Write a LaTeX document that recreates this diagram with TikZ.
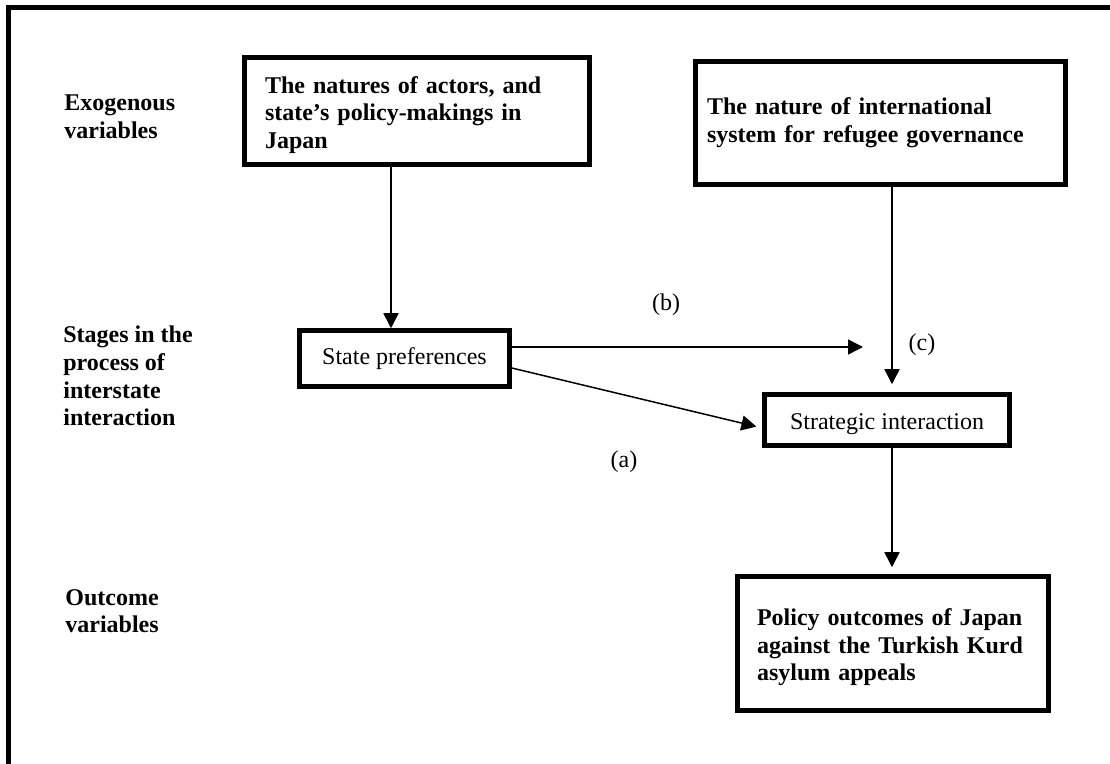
\documentclass[tikz,border=0pt]{standalone}
\usepackage{fontspec}
\setmainfont{Liberation Serif}
\usetikzlibrary{arrows.meta,positioning}

\newcommand{\toppad}{\rule{0pt}{12.3pt}}

\begin{document}
\begin{tikzpicture}[
    x=0.5pt, y=-0.5pt,
    font=\fontsize{12}{13.8}\selectfont,
    block/.style={draw, rectangle, line width=2.25pt, align=left},
    boldblock/.style={block, font=\fontsize{12}{13.8}\selectfont\bfseries},
    rowlabel/.style={anchor=west, inner sep=0pt, align=left, font=\fontsize{12}{13.8}\selectfont\bfseries},
    arrow/.style={-{Triangle[length=7.5pt, width=7.5pt]}, line width=0.75pt}
]

\clip (0,0) rectangle (1110,764);
% Outer frame, runs off the right and bottom edges
\draw[line width=2.5pt] (8.5,7.5) rectangle (1140,800);

% Row labels
\node[rowlabel] (exo) at (64,117) {Exogenous\\variables};
\node[rowlabel] (stages) at (63,376) {Stages in the\\process of\\interstate\\interaction};
\node[rowlabel] (outcome) at (65,611) {Outcome\\variables};

% Exogenous variables
\node[boldblock, minimum width=172.5pt, minimum height=53.5pt, text width=152pt] (actors) at (417,111)
    {\toppad The natures of actors, and\\state's policy-makings in\\Japan};
\node[boldblock, minimum width=185pt, minimum height=61.5pt, text width=173.5pt] (intl) at (880.5,123)
    {The nature of international\\system for refugee governance};

% Interaction stage
\node[block, align=center, minimum width=105pt, minimum height=28pt] (prefs) at (404.5,358.5) {State preferences};
\node[block, align=center, minimum width=122.5pt, minimum height=25.5pt] (strat) at (887,420) {\toppad Strategic interaction};
\coordinate (bjoin) at (863,347);

% Outcome
\node[boldblock, minimum width=155.5pt, minimum height=67pt, text width=136pt] (policy) at (893,643.5)
    {\toppad Policy outcomes of Japan\\against the Turkish Kurd\\asylum appeals};

% Arrows
\draw[arrow] ([xshift=-13pt]actors.south) -- ([xshift=-6.75pt]prefs.north);
\draw[arrow] ([yshift=5.75pt]prefs.east) -- (bjoin);
\draw[arrow, shorten >=3pt] ([yshift=-4.75pt]prefs.east) -- ([yshift=-4pt]strat.west);
\draw[arrow, shorten >=4pt] ([xshift=5.75pt]intl.south) -- ([xshift=5.75pt]intl.south |- strat.north);
\draw[arrow, shorten >=3.5pt] ([xshift=2.5pt]strat.south) -- ([xshift=2.5pt]strat.south |- policy.north);

% Path labels
\node (lblb) at (666,305) {(b)};
\node (lbla) at (624,462) {(a)};
\node (lblc) at (922,345) {(c)};

\end{tikzpicture}
\end{document}
